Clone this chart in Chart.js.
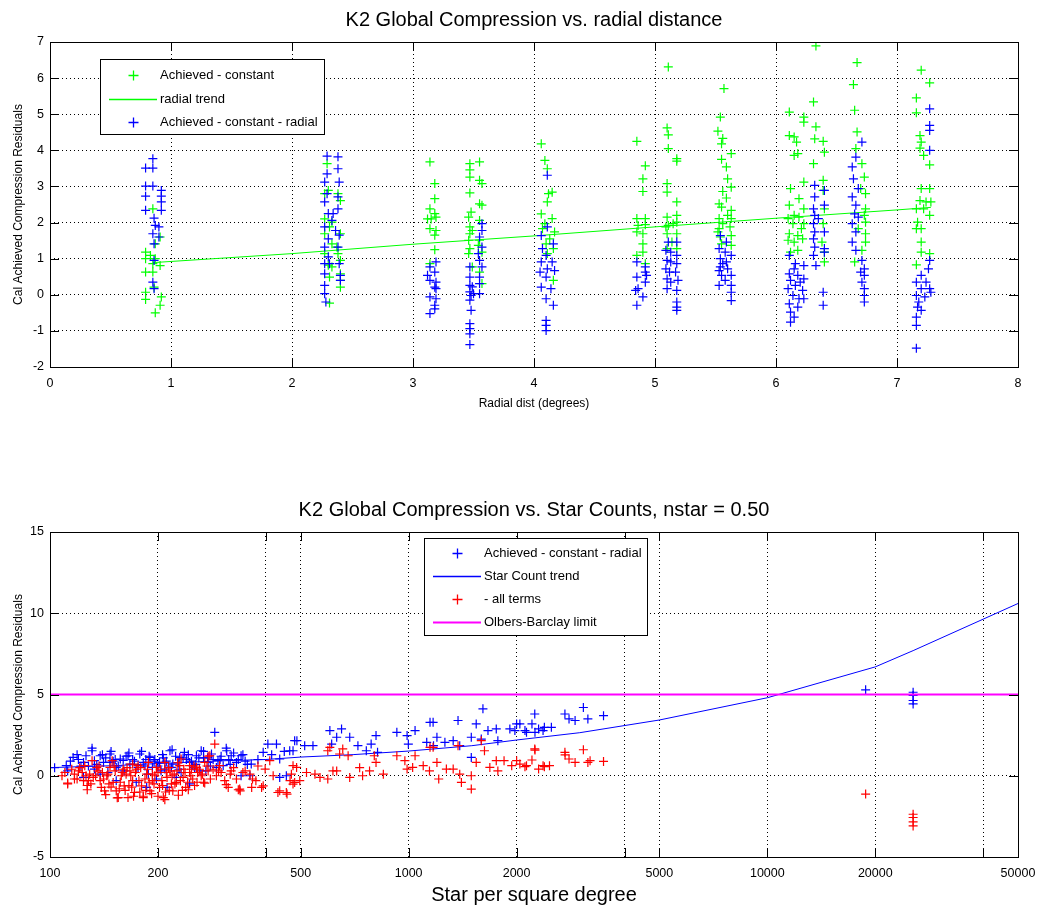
<!DOCTYPE html>
<html>
<head>
<meta charset="utf-8">
<script src="https://cdn.jsdelivr.net/npm/chart.js@4"></script>
<style>
  body { margin: 0; background: #fff; }
  canvas { position: absolute; left: 0; }
  #radial { top: 0; }
  #stars { top: 440px; }
</style>
</head>
<body>
<canvas id="radial" width="1037" height="440"></canvas>
<canvas id="stars" width="1037" height="467"></canvas>
<script>
// ---- top plot: residuals vs radial distance [deg, residual]
const achConst = [
  [0.85,2.38],[0.91,1.6],[0.87,1.41],[0.79,1.18],[0.83,1.09],[0.79,1.0],[0.87,1.0],[0.85,0.86],[0.91,0.81],[0.79,0.63],[0.85,0.63],[0.86,0.21],[0.79,0.07],[0.79,-0.13],[0.92,-0.06],[0.91,-0.29],[0.87,-0.5],
  [2.29,3.63],[2.3,2.89],[2.27,2.8],[2.38,2.8],[2.4,2.61],[2.27,2.1],[2.33,2.01],[2.31,1.88],[2.27,1.69],[2.4,1.69],[2.33,1.41],[2.37,1.32],[2.27,1.14],[2.38,1.14],[2.4,0.95],[2.3,0.82],[2.33,0.77],[2.4,0.58],[2.31,0.49],[2.4,0.4],[2.4,0.21],[2.31,-0.23],
  [3.14,3.68],[3.18,3.08],[3.18,2.66],[3.14,2.38],[3.18,2.25],[3.12,2.1],[3.15,2.1],[3.19,2.15],[3.14,1.83],[3.19,1.78],[3.18,1.65],[3.18,1.25],[3.14,0.86],
  [3.47,3.63],[3.55,3.68],[3.47,3.46],[3.47,3.26],[3.55,3.17],[3.57,3.08],[3.47,2.82],[3.55,2.52],[3.57,2.48],[3.48,2.29],[3.46,2.15],[3.55,2.06],[3.47,1.88],[3.49,1.78],[3.47,1.69],[3.46,1.51],[3.55,1.51],[3.54,1.37],[3.47,1.28],[3.46,1.14],[3.57,1.18],[3.49,0.77],[3.55,0.63],[3.57,0.31],
  [4.06,4.18],[4.09,3.72],[4.11,3.49],[4.15,2.84],[4.12,2.8],[4.11,2.57],[4.06,2.24],[4.15,2.11],[4.09,1.97],[4.07,1.83],[4.17,1.74],[4.13,1.55],[4.1,1.41],[4.16,1.28],[4.11,1.14],[4.16,0.4],
  [4.85,4.25],[4.92,3.57],[4.9,3.21],[4.9,2.86],[4.85,2.11],[4.92,2.11],[4.86,1.92],[4.92,1.94],[4.85,1.74],[4.9,1.69],[4.9,1.41],[4.9,1.18],[4.85,1.09],[4.92,0.86],
  [5.11,6.31],[5.1,4.62],[5.11,4.43],[5.11,4.05],[5.18,3.77],[5.18,3.7],[5.1,3.08],[5.1,2.84],[5.18,2.57],[5.18,2.2],[5.1,2.15],[5.18,2.01],[5.15,1.97],[5.11,1.92],[5.09,1.88],[5.1,1.69],[5.18,1.69],[5.14,1.46],[5.18,1.28],[5.1,1.28],
  [5.57,5.71],[5.54,4.92],[5.52,4.53],[5.56,4.33],[5.55,4.18],[5.63,3.91],[5.55,3.75],[5.59,3.54],[5.6,3.21],[5.63,2.98],[5.56,2.86],[5.59,2.68],[5.53,2.52],[5.55,2.43],[5.63,2.34],[5.6,2.2],[5.53,2.11],[5.63,2.11],[5.56,1.97],[5.62,1.88],[5.53,1.83],[5.52,1.74],[5.63,1.64],[5.54,1.6],[5.55,1.41],[5.63,1.37],
  [6.11,5.06],[6.23,4.92],[6.23,4.78],[6.11,4.41],[6.15,4.37],[6.17,4.23],[6.18,3.91],[6.15,3.86],[6.23,3.12],[6.12,2.94],[6.19,2.66],[6.11,2.48],[6.23,2.38],[6.15,2.2],[6.19,2.15],[6.1,2.11],[6.14,1.97],[6.23,1.97],[6.21,1.83],[6.11,1.69],[6.18,1.64],[6.22,1.55],[6.1,1.51],[6.15,1.46],[6.18,1.23],[6.12,1.18],
  [6.33,6.89],[6.31,5.34],[6.33,4.65],[6.32,4.32],[6.39,4.25],[6.4,3.95],[6.31,3.63],[6.39,3.17],[6.39,2.89],[6.4,2.38],[6.39,1.97],[6.38,1.46],[6.4,1.18],[6.4,0.91],
  [6.67,6.43],[6.64,5.82],[6.65,5.11],[6.67,4.51],[6.66,4.05],[6.71,3.63],[6.73,3.26],[6.7,2.94],[6.74,2.8],[6.74,2.38],[6.73,2.2],[6.74,2.01],[6.68,1.83],[6.74,1.69],[6.74,1.46],[6.71,1.23],[6.65,0.91],
  [7.2,6.22],[7.27,5.87],[7.16,5.45],[7.16,5.04],[7.19,4.41],[7.2,4.23],[7.19,4.06],[7.22,3.86],[7.27,3.6],[7.2,2.94],[7.27,2.94],[7.19,2.61],[7.24,2.57],[7.28,2.57],[7.16,2.38],[7.22,2.38],[7.27,2.2],[7.17,2.01],[7.16,1.83],[7.2,1.83],[7.2,1.46],[7.2,1.18],[7.27,1.14],[7.16,0.83]
];
const achConstRad = [
  [0.85,3.77],[0.79,3.51],[0.85,3.51],[0.79,3.01],[0.85,3.01],[0.92,2.89],[0.79,2.73],[0.92,2.73],[0.92,2.57],[0.79,2.34],[0.92,2.34],[0.86,2.12],[0.87,1.92],[0.9,1.88],[0.85,1.69],[0.9,1.6],[0.86,1.41],[0.86,0.95],[0.85,0.35],[0.86,0.17],
  [2.29,3.84],[2.38,3.82],[2.38,3.49],[2.29,3.35],[2.27,3.12],[2.39,3.12],[2.29,2.8],[2.38,2.71],[2.27,2.57],[2.38,2.38],[2.3,2.25],[2.34,2.25],[2.33,2.06],[2.27,1.88],[2.36,1.78],[2.39,1.65],[2.3,1.55],[2.27,1.32],[2.38,1.32],[2.3,1.05],[2.27,0.86],[2.31,0.86],[2.39,0.86],[2.27,0.58],[2.4,0.54],[2.4,0.4],[2.27,0.26],[2.27,0.03],[2.28,-0.2],
  [3.19,0.91],[3.14,0.77],[3.18,0.63],[3.12,0.54],[3.14,0.4],[3.19,0.35],[3.18,0.21],[3.19,0.17],[3.14,-0.06],[3.19,-0.11],[3.18,-0.29],[3.18,-0.39],[3.14,-0.52],
  [3.57,1.97],[3.57,1.78],[3.55,1.6],[3.57,1.32],[3.54,1.14],[3.55,0.95],[3.57,0.77],[3.47,0.77],[3.55,0.49],[3.47,0.49],[3.55,0.31],[3.47,0.26],[3.49,0.22],[3.47,0.08],[3.55,0.03],[3.5,0.03],[3.48,-0.02],[3.47,-0.15],[3.48,-0.43],[3.47,-0.8],[3.47,-0.94],[3.47,-1.08],[3.47,-1.38],
  [4.11,3.31],[4.11,1.88],[4.06,1.64],[4.16,1.41],[4.07,1.28],[4.1,1.09],[4.06,0.91],[4.15,0.91],[4.11,0.72],[4.17,0.67],[4.05,0.63],[4.1,0.49],[4.06,0.21],[4.14,0.17],[4.1,-0.11],[4.16,-0.29],[4.1,-0.71],[4.1,-0.85],[4.1,-0.99],
  [4.85,0.91],[4.92,0.77],[4.92,0.63],[4.93,0.54],[4.85,0.49],[4.92,0.35],[4.86,0.17],[4.84,0.12],[4.9,-0.06],[4.85,-0.29],
  [5.11,1.46],[5.18,1.46],[5.09,1.23],[5.13,1.18],[5.18,1.09],[5.1,0.95],[5.13,0.91],[5.18,0.86],[5.09,0.72],[5.12,0.63],[5.17,0.63],[5.1,0.44],[5.19,0.4],[5.13,0.35],[5.1,0.17],[5.18,0.12],[5.18,-0.2],[5.18,-0.34],[5.18,-0.43],
  [5.54,1.64],[5.59,1.46],[5.53,1.28],[5.58,1.18],[5.63,1.09],[5.54,1.0],[5.59,0.91],[5.56,0.86],[5.54,0.77],[5.6,0.72],[5.53,0.67],[5.55,0.54],[5.63,0.54],[5.58,0.4],[5.53,0.26],[5.63,0.26],[5.63,0.07],[5.63,-0.16],
  [6.11,1.09],[6.16,0.86],[6.23,0.81],[6.15,0.72],[6.11,0.58],[6.18,0.54],[6.23,0.44],[6.12,0.4],[6.2,0.35],[6.16,0.26],[6.1,0.17],[6.22,0.12],[6.14,-0.02],[6.19,-0.11],[6.23,-0.11],[6.11,-0.25],[6.18,-0.34],[6.12,-0.48],[6.15,-0.62],[6.12,-0.76],
  [6.32,3.03],[6.4,2.89],[6.32,2.71],[6.4,2.48],[6.31,2.38],[6.32,2.2],[6.35,2.11],[6.31,1.97],[6.32,1.74],[6.4,1.74],[6.31,1.55],[6.32,1.32],[6.4,1.28],[6.4,1.18],[6.31,1.09],[6.33,0.81],[6.39,0.07],[6.39,-0.29],
  [6.71,4.23],[6.66,3.81],[6.63,3.54],[6.64,3.21],[6.68,2.94],[6.63,2.71],[6.66,2.48],[6.65,2.24],[6.68,2.15],[6.63,1.97],[6.66,1.74],[6.63,1.46],[6.66,1.23],[6.71,0.95],[6.73,0.72],[6.7,0.63],[6.73,0.54],[6.71,0.35],[6.73,0.17],[6.73,-0.02],[6.73,-0.2],
  [7.27,5.15],[7.27,4.69],[7.27,4.55],[7.27,4.0],[7.27,0.95],[7.26,0.72],[7.2,0.54],[7.24,0.35],[7.16,0.35],[7.27,0.17],[7.2,0.17],[7.28,0.07],[7.16,-0.02],[7.23,-0.06],[7.18,-0.2],[7.17,-0.34],[7.2,-0.43],[7.16,-0.62],[7.16,-0.85],[7.16,-1.48]
];
const radialTrend = [[0.85,0.89],[2.0,1.14],[3.0,1.4],[4.0,1.63],[5.0,1.88],[6.0,2.12],[7.0,2.35],[7.28,2.42]];

// ---- bottom plot: residuals vs star density [stars/deg^2, residual]
const starBlue = [
  [103,0.5],[111,0.62],[112,0.3],[114,0.9],[116,1.13],[119,1.3],[120,1.0],[122,0.6],[124,0.82],[124,-0.1],[126,1.23],[128,0.6],[131,1.54],[131,1.7],[133,0.93],[133,0.41],[135,0.7],[138,1.23],[138,0.1],
  [140,1.3],[141,0.82],[143,1.1],[145,0.2],[147,1.34],[147,0.82],[148,1.5],[150,0.9],[152,1.0],[153,0.51],[153,-0.3],[155,0.6],[157,1.03],[160,0.95],[161,0.3],[163,1.2],[165,1.23],[166,1.4],[167,0.72],
  [170,1.0],[172,0.9],[174,-0.4],[176,0.51],[178,1.34],[180,1.5],[182,0.82],[184,0.6],[185,1.0],[186,-0.72],[188,0.1],[189,1.2],[190,1.13],[193,0.51],[195,0.9],[196,1.0],[198,-0.2],[200,0.6],
  [202,0.82],[204,0.3],[206,1.3],[207,1.1],[209,0.41],[211,0.9],[212,-0.72],[214,0.6],[216,1.54],[218,0.51],[219,1.6],[220,0.72],[224,1.2],[225,-0.1],[228,0.8],[229,0.4],[230,1.13],[232,0.2],[235,1.1],
  [237,1.44],[240,1.0],[243,1.3],[245,0.82],[245,-0.5],[248,0.9],[250,0.62],[253,0.5],[255,0.7],[256,1.23],[260,1.1],[262,0.3],[264,1.54],[268,1.5],[268,1.1],[272,0.3],[275,1.1],[276,0.82],[280,0.6],
  [282,1.34],[285,1.0],[288,2.67],[291,0.51],[294,0.93],[298,1.0],[300,1.2],[304,0.62],[310,1.7],[311,1.54],[315,1.0],[318,0.7],[320,1.23],[325,1.4],[331,0.82],[335,1.0],[341,1.23],[341,0],[345,1.3],
  [350,0.9],[355,0.7],[361,0],[364,0.72],[380,1.0],[393,1.44],[405,1.95],[415,1.3],[428,1.95],[437,1.03],[437,-0.1],[450,1.5],[456,0],[466,1.54],[481,2.16],
  [476,1.54],[488,2.16],[513,1.85],[541,1.85],[603,2.78],[610,1.95],[630,2.37],[650,2.88],[685,2.37],[722,1.85],[762,1.54],[786,1.95],[811,2.47],[819,1.44],[927,2.67],[990,2.47],[998,1.95],
  [1042,2.78],[1123,2.06],[1147,3.29],[1170,3.29],[1173,1.85],[1199,2.37],[1262,2.06],[1331,2.16],[1373,3.4],[1388,1.85],[1495,2.37],[1495,1.13],[1543,3.19],[1594,2.26],[1611,4.12],[1664,2.78],[1755,2.88],
  [1773,2.16],[1915,2.88],[1978,2.78],[2000,3.19],[2042,3.19],[2110,2.78],[2131,2.67],[2207,3.19],[2247,3.8],[2250,2.67],[2303,2.88],[2370,2.78],[2390,2.98],[2500,2.98],[2727,3.8],[2800,3.5],[2911,3.4],
  [3070,4.2],[3160,3.5],[3494,3.7],
  [18800,5.29],[25500,5.14],[25500,4.94],[25500,4.63],[25500,4.42]
];
const starRed = [
  [108,0],[110,0.2],[112,-0.5],[112,-0.45],[115,0.4],[117,0.1],[117,-0.2],[119,-0.2],[120,0.3],[121,0.5],[123,0.2],[124,-0.3],[125,0.62],[126,0.0],[127,-0.6],[127,-0.86],[128,-0.3],[129,0.1],[130,-0.5],
  [131,0.93],[132,-0.1],[134,0],[135,0.5],[136,0.3],[137,0.6],[138,-0.3],[139,-0.72],[140,0.2],[141,-0.2],[142,-0.93],[143,-1.16],[144,0],[145,0.1],[146,-0.5],[147,0.51],[148,-0.7],[149,0.93],[150,-0.41],
  [151,0.6],[152,0.3],[153,-0.93],[154,-1.36],[155,-1.34],[156,-0.8],[157,-0.4],[158,0],[159,0.2],[160,0.4],[161,-0.62],[162,-0.9],[163,0.1],[164,0.5],[165,-1.34],[166,-0.6],[167,0.3],[168,0],[169,-0.7],
  [170,-0.3],[170,0.72],[171,-1.26],[172,-1.03],[173,0.2],[174,0.4],[176,0.62],[177,-0.3],[178,-1.0],[179,0.5],[180,-0.62],[182,-1.34],[182,-1.26],[184,-0.2],[185,-0.9],[186,0.1],[187,0.4],[188,0.82],
  [189,-0.4],[190,-0.93],[192,-1.1],[193,-0.3],[193,0.1],[195,-0.5],[196,0.0],[198,0.51],[200,0.2],[200,-1.26],[202,-0.72],[203,0.4],[205,-0.3],[206,-0.6],[207,-1.34],[209,0.82],[209,-1.47],[210,-1.0],
  [211,0.2],[212,-0.1],[214,0.5],[215,-0.9],[216,0.3],[218,-0.5],[219,0.0],[220,-0.93],[222,0.1],[223,-0.5],[225,-0.41],[226,0.3],[227,0.8],[228,-1.2],[230,0.62],[231,-0.3],[232,1.03],[234,-0.9],[235,-0.1],
  [236,0.4],[238,0.2],[239,-0.72],[242,-0.4],[243,-0.86],[245,0.2],[245,0.62],[247,0.0],[248,0.4],[250,-0.2],[252,0.6],[253,-0.6],[256,0.51],[257,-0.4],[258,0.2],[261,0.4],[264,0],[266,0.1],[268,-0.4],
  [270,0.82],[270,-0.45],[274,0.6],[276,0.3],[276,1.2],[279,1.23],[280,-0.2],[285,0.4],[288,1.95],[291,0],[295,0.3],[297,0.62],[300,0.2],[307,-0.3],[310,-0.55],[314,-0.72],[318,0.1],[320,0.3],[325,0.5],
  [331,-0.2],[335,-0.86],[338,-0.82],[339,-0.93],[345,0.2],[350,0.3],[361,0.1],[365,-0.72],[367,-0.2],[375,-0.3],[380,0.6],[389,-0.72],[393,-0.62],[398,0.41],[410,0.93],[419,0],[432,-1.03],
  [437,-0.93],[456,-1.03],[458,-1.13],[471,0.1],[476,-0.51],[481,-0.41],[487,0.51],[497,-0.3],
  [467,-0.3],[476,0.62],[519,0.2],[548,0.1],[566,-0.1],[595,-0.2],[595,1.54],[603,1.75],[615,0.3],[630,0.3],[642,1.34],[655,1.65],[678,1.23],[685,-0.1],[730,0.5],[744,0],[778,0.3],[802,1.23],[811,0.82],
  [850,0.1],[927,1.23],[976,0.93],[990,0.41],[1026,0.51],[1042,1.23],[1098,0.62],[1143,0.3],[1147,1.75],[1170,1.75],[1199,0.82],[1213,-0.2],[1274,0.41],[1331,0.41],[1373,1.85],[1388,0.1],[1403,-0.41],
  [1495,-0.82],[1495,0],[1543,0.82],[1594,2.16],[1627,1.54],[1684,0.51],[1755,0.93],[1773,0.3],[1845,0.93],[1938,0.62],[2000,0.93],[2042,0.72],[2110,0.56],[2131,0.62],[2207,0.97],[2247,1.65],[2250,1.58],
  [2303,0.41],[2370,0.62],[2390,0.56],[2470,0.62],[2727,1.44],[2730,1.28],[2800,1.03],[2911,0.82],[3070,1.6],[3160,0.82],[3205,0.93],[3494,0.88],
  [18800,-1.13],[25500,-2.37],[25500,-2.57],[25500,-2.84],[25500,-3.09]
];
const starTrend = [[100,0.5],[150,0.62],[200,0.75],[300,0.92],[400,1.0],[500,1.15],[700,1.3],[1000,1.52],[1500,1.85],[2000,2.2],[3000,2.65],[5000,3.43],[10000,4.8],[20000,6.7],[25500,7.7],[50000,10.6]];
const olbersLimit = [[100,5],[50000,5]];

const starTicks = [100, 200, 400, 500, 1000, 2000, 4000, 5000, 10000, 20000, 40000, 50000];
const starTickLabels = ['100', '200', '', '500', '1000', '2000', '', '5000', '10000', '20000', '', '50000'];

const FONT = '"Liberation Sans", Arial, sans-serif';
Chart.defaults.font.family = FONT;
Chart.defaults.color = '#000';

const pts = arr => arr.map(p => ({x: p[0], y: p[1]}));

// matlab-ish frame: box, inward ticks, title, boxed legend
const matFrame = {
  id: 'matFrame',
  afterDraw(chart, args, o) {
    const {ctx, chartArea: a, scales} = chart;
    ctx.save();
    ctx.strokeStyle = '#000';
    ctx.lineWidth = 1;
    ctx.strokeRect(a.left + 0.5, a.top + 0.5, a.right - a.left, a.bottom - a.top);
    ctx.beginPath();
    scales.x.ticks.forEach(t => {
      const px = Math.round(scales.x.getPixelForValue(t.value)) + 0.5;
      ctx.moveTo(px, a.bottom); ctx.lineTo(px, a.bottom - 9);
      ctx.moveTo(px, a.top); ctx.lineTo(px, a.top + 9);
    });
    scales.y.ticks.forEach(t => {
      const py = Math.round(scales.y.getPixelForValue(t.value)) + 0.5;
      ctx.moveTo(a.left, py); ctx.lineTo(a.left + 9, py);
      ctx.moveTo(a.right, py); ctx.lineTo(a.right - 9, py);
    });
    ctx.stroke();

    ctx.fillStyle = '#000';
    ctx.font = '20px ' + FONT;
    ctx.textAlign = 'center';
    ctx.textBaseline = 'middle';
    ctx.fillText(o.title, (a.left + a.right) / 2, o.titleY);

    const L = o.legend;
    ctx.fillStyle = '#fff';
    ctx.fillRect(L.x, L.y, L.w, L.h);
    ctx.strokeStyle = '#000';
    ctx.strokeRect(L.x + 0.5, L.y + 0.5, L.w, L.h);
    ctx.font = '13px ' + FONT;
    ctx.textAlign = 'left';
    L.items.forEach((it, i) => {
      const y = Math.round(L.y + L.first + i * L.step) + 0.5;
      ctx.strokeStyle = it.color;
      ctx.lineWidth = it.width || 1.3;
      ctx.beginPath();
      if (it.line) {
        ctx.moveTo(L.x + 9, y); ctx.lineTo(L.x + 57, y);
      } else {
        const cx = L.x + 33.5;
        ctx.moveTo(cx - 5, y); ctx.lineTo(cx + 5, y);
        ctx.moveTo(cx, y - 5); ctx.lineTo(cx, y + 5);
      }
      ctx.stroke();
      ctx.fillStyle = '#000';
      ctx.fillText(it.text, L.x + 60, y);
    });
    ctx.restore();
  }
};

const gridOpts = {color: '#000', lineWidth: 1, drawTicks: false};
const borderOpts = {display: false, dash: [1, 3]};
const noEdgePad = s => { s.paddingLeft = 0; s.paddingRight = 0; };
const plus = (color, order) => ({
  pointStyle: 'cross', pointRadius: 4.5, borderColor: color, backgroundColor: color,
  borderWidth: 1.2, showLine: false, order: order
});

new Chart(document.getElementById('radial'), {
  type: 'scatter',
  data: {
    datasets: [
      Object.assign({label: 'Achieved - constant', data: pts(achConst)}, plus('#00ff00', 3)),
      {label: 'radial trend', data: pts(radialTrend), showLine: true, pointRadius: 0, borderColor: '#00ff00', borderWidth: 1, order: 2},
      Object.assign({label: 'Achieved - constant - radial', data: pts(achConstRad)}, plus('#0000ff', 1))
    ]
  },
  options: {
    responsive: false,
    animation: false,
    devicePixelRatio: 1,
    layout: {padding: {top: 42, right: 19, left: 0, bottom: 0}},
    plugins: {
      legend: {display: false},
      tooltip: {enabled: false},
      matFrame: {
        title: 'K2 Global Compression vs. radial distance', titleY: 20,
        legend: {x: 100, y: 59, w: 224, h: 75, first: 16, step: 23.5, items: [
          {text: 'Achieved - constant', color: '#00ff00'},
          {text: 'radial trend', color: '#00ff00', line: true},
          {text: 'Achieved - constant - radial', color: '#0000ff'}
        ]}
      }
    },
    scales: {
      x: {
        type: 'linear', min: 0, max: 8,
        ticks: {stepSize: 1, padding: 9, font: {size: 12.5}, maxRotation: 0},
        grid: gridOpts, border: borderOpts,
        title: {display: true, text: 'Radial dist (degrees)', font: {size: 12}, padding: {top: 0, bottom: 28.8}},
        afterFit: s => { s.height = 73; noEdgePad(s); }
      },
      y: {
        min: -2, max: 7,
        ticks: {stepSize: 1, padding: 6, font: {size: 12.5}},
        grid: gridOpts, border: borderOpts,
        title: {display: true, text: 'Cal Achieved Compression Residuals', font: {size: 12}, padding: {top: 11, bottom: 0}},
        afterFit: s => { s.width = 50; }
      }
    }
  },
  plugins: [matFrame]
});

new Chart(document.getElementById('stars'), {
  type: 'scatter',
  data: {
    datasets: [
      Object.assign({label: 'Achieved - constant - radial', data: pts(starBlue)}, plus('#0000ff', 4)),
      {label: 'Star Count trend', data: pts(starTrend), showLine: true, pointRadius: 0, borderColor: '#0000ff', borderWidth: 1, order: 3},
      Object.assign({label: '- all terms', data: pts(starRed)}, plus('#ff0000', 2)),
      {label: 'Olbers-Barclay limit', data: pts(olbersLimit), showLine: true, pointRadius: 0, borderColor: '#ff00ff', borderWidth: 2, order: 1}
    ]
  },
  options: {
    responsive: false,
    animation: false,
    devicePixelRatio: 1,
    layout: {padding: {top: 92, right: 19, left: 0, bottom: 0}},
    plugins: {
      legend: {display: false},
      tooltip: {enabled: false},
      matFrame: {
        title: 'K2 Global Compression vs. Star Counts, nstar = 0.50', titleY: 70,
        legend: {x: 424, y: 98, w: 223, h: 97, first: 15, step: 23, items: [
          {text: 'Achieved - constant - radial', color: '#0000ff'},
          {text: 'Star Count trend', color: '#0000ff', line: true},
          {text: '- all terms', color: '#ff0000'},
          {text: 'Olbers-Barclay limit', color: '#ff00ff', line: true, width: 2}
        ]}
      }
    },
    scales: {
      x: {
        type: 'logarithmic', min: 100, max: 50000,
        afterBuildTicks: s => { s.ticks = starTicks.map(v => ({value: v})); },
        ticks: {
          autoSkip: false, maxRotation: 0, padding: 9, font: {size: 12.5},
          callback: v => starTickLabels[starTicks.indexOf(v)] ?? ''
        },
        grid: gridOpts, border: borderOpts,
        title: {display: true, text: 'Star per square degree', font: {size: 20}, padding: {top: 0, bottom: 0}},
        afterFit: s => { s.height = 50; noEdgePad(s); }
      },
      y: {
        min: -5, max: 15,
        ticks: {stepSize: 5, padding: 6, font: {size: 12.5}},
        grid: gridOpts, border: borderOpts,
        title: {display: true, text: 'Cal Achieved Compression Residuals', font: {size: 12}, padding: {top: 11, bottom: 0}},
        afterFit: s => { s.width = 50; }
      }
    }
  },
  plugins: [matFrame]
});
</script>
</body>
</html>
